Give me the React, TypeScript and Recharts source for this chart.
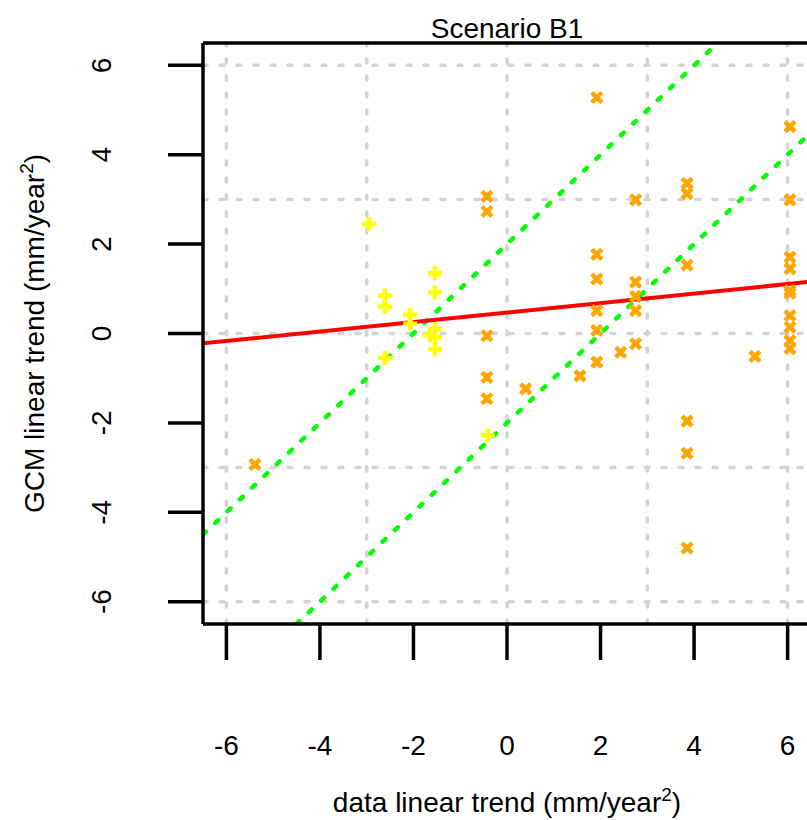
import { ScatterChart, Scatter, XAxis, YAxis, ReferenceLine } from 'recharts';

const FONT = '"Liberation Sans", Arial, sans-serif';

// data points
const ipccPoints = [
  { x: -5.39, y: -2.93 },
  { x: -0.43, y: 3.07 }, { x: -0.43, y: 2.73 }, { x: -0.43, y: -0.05 }, { x: -0.43, y: -0.98 }, { x: -0.43, y: -1.46 },
  { x: 0.4, y: -1.24 },
  { x: 1.56, y: -0.95 },
  { x: 1.92, y: 5.28 }, { x: 1.92, y: 1.77 }, { x: 1.92, y: 1.22 }, { x: 1.92, y: 0.51 }, { x: 1.92, y: 0.07 }, { x: 1.92, y: -0.64 },
  { x: 2.43, y: -0.42 },
  { x: 2.75, y: 2.99 }, { x: 2.75, y: 1.15 }, { x: 2.75, y: 0.83 }, { x: 2.75, y: 0.51 }, { x: 2.75, y: -0.23 },
  { x: 3.85, y: 3.36 }, { x: 3.85, y: 3.13 }, { x: 3.85, y: 1.53 }, { x: 3.85, y: -1.96 }, { x: 3.85, y: -2.68 }, { x: 3.85, y: -4.8 },
  { x: 5.3, y: -0.51 },
  { x: 6.05, y: 4.63 }, { x: 6.05, y: 2.99 }, { x: 6.05, y: 1.71 }, { x: 6.05, y: 1.45 }, { x: 6.05, y: 0.96 },
  { x: 6.05, y: 0.9 }, { x: 6.05, y: 0.4 }, { x: 6.05, y: 0.14 }, { x: 6.05, y: -0.16 }, { x: 6.05, y: -0.34 },
];

const otherPoints = [
  { x: -2.95, y: 2.45 },
  { x: -2.61, y: 0.85 }, { x: -2.61, y: 0.6 }, { x: -2.61, y: -0.55 },
  { x: -2.07, y: 0.42 }, { x: -2.07, y: 0.22 },
  { x: -1.54, y: 1.35 }, { x: -1.54, y: 0.92 }, { x: -1.54, y: 0.1 }, { x: -1.65, y: -0.03 },
  { x: -1.54, y: -0.08 }, { x: -1.54, y: -0.35 },
  { x: -0.41, y: -2.28 },
];

const fitLine = [{ x: -6.5, y: -0.22 }, { x: 6.5, y: 1.16 }];
const upperBand = [{ x: -6.5, y: -4.5 }, { x: 4.5, y: 6.5 }];
const lowerBand = [{ x: -4.5, y: -6.5 }, { x: 6.5, y: 4.5 }];

const xDomain = [-6.5, 6.5];
const yDomain = [-6.5, 6.5];
const axisTicks = [-6, -4, -2, 0, 2, 4, 6];
const gridValues = [-6, -3, 0, 3, 6];

const Cross = (props: any) => {
  const { cx, cy } = props;
  const r = 5;
  return (
    <g stroke="#ffa500" strokeWidth={4.5}>
      <line x1={cx - r} y1={cy - r} x2={cx + r} y2={cy + r} />
      <line x1={cx - r} y1={cy + r} x2={cx + r} y2={cy - r} />
    </g>
  );
};

const Plus = (props: any) => {
  const { cx, cy } = props;
  const r = 7;
  return (
    <g stroke="#ffff00" strokeWidth={4.5}>
      <line x1={cx - r} y1={cy} x2={cx + r} y2={cy} />
      <line x1={cx} y1={cy - r} x2={cx} y2={cy + r} />
    </g>
  );
};

const YTick = (props: any) => {
  const { y, payload } = props;
  const bx = 111;
  return (
    <text x={bx} y={y} transform={`rotate(-90 ${bx} ${y})`} textAnchor="middle"
      fontSize={28} fontFamily={FONT} fill="#000">
      {payload.value}
    </text>
  );
};

const XTitle = (props: any) => {
  const vb = props.viewBox;
  return (
    <text x={vb.x + vb.width / 2} y={812} textAnchor="middle" fontSize={28} fontFamily={FONT} fill="#000">
      data linear trend (mm/year<tspan dy={-11} fontSize={19}>2</tspan><tspan dy={11}>)</tspan>
    </text>
  );
};

const YTitle = (props: any) => {
  const vb = props.viewBox;
  const cy = vb.y + vb.height / 2;
  const bx = 44;
  return (
    <text x={bx} y={cy} transform={`rotate(-90 ${bx} ${cy})`} textAnchor="middle"
      fontSize={28} fontFamily={FONT} fill="#000">
      GCM linear trend (mm/year<tspan dy={-11} fontSize={19}>2</tspan><tspan dy={11}>)</tspan>
    </text>
  );
};

const Title = (props: any) => {
  const vb = props.viewBox;
  return (
    <text x={vb.x + vb.width / 2} y={38} textAnchor="middle" fontSize={28} fontFamily={FONT} fill="#000">
      Scenario B1
    </text>
  );
};

export default function App() {
  return (
    <div style={{ position: 'absolute', left: 0, top: 0, width: 807, height: 820, overflow: 'hidden', background: '#fff' }}>
      <ScatterChart width={820} height={820} margin={{ top: 43, right: 9, left: 0, bottom: 0 }}>
        <XAxis
          type="number"
          dataKey="x"
          domain={xDomain}
          ticks={axisTicks}
          allowDataOverflow
          height={196}
          tickSize={36}
          tickMargin={75}
          axisLine={{ stroke: '#000', strokeWidth: 3.5 }}
          tickLine={{ stroke: '#000', strokeWidth: 3.5 }}
          tick={{ fontSize: 28, fontFamily: FONT, fill: '#000' }}
          label={<XTitle />}
        />
        <YAxis
          type="number"
          dataKey="y"
          domain={yDomain}
          ticks={axisTicks}
          allowDataOverflow
          width={203}
          tickSize={35}
          axisLine={{ stroke: '#000', strokeWidth: 3.5 }}
          tickLine={{ stroke: '#000', strokeWidth: 3.5 }}
          tick={<YTick />}
          label={<YTitle />}
        />
        <Scatter data={ipccPoints} shape={<Cross />} isAnimationActive={false} />
        <Scatter data={otherPoints} shape={<Plus />} isAnimationActive={false} />
        {gridValues.map((v) => (
          <ReferenceLine key={`gx${v}`} x={v} stroke="#d3d3d3" strokeWidth={3.5} strokeDasharray="4 13" strokeLinecap="round" />
        ))}
        {gridValues.map((v) => (
          <ReferenceLine key={`gy${v}`} y={v} stroke="#d3d3d3" strokeWidth={3.5} strokeDasharray="4 13" strokeLinecap="round" />
        ))}
        <ReferenceLine segment={upperBand} stroke="#00ff00" strokeWidth={4.5} strokeDasharray="4 13" strokeLinecap="round" ifOverflow="hidden" />
        <ReferenceLine segment={lowerBand} stroke="#00ff00" strokeWidth={4.5} strokeDasharray="4 13" strokeLinecap="round" ifOverflow="hidden" />
        <ReferenceLine segment={fitLine} stroke="#ff0000" strokeWidth={4} ifOverflow="hidden" />
        <ReferenceLine y={yDomain[1]} stroke="#000" strokeWidth={3.5} label={<Title />} />
      </ScatterChart>
    </div>
  );
}
